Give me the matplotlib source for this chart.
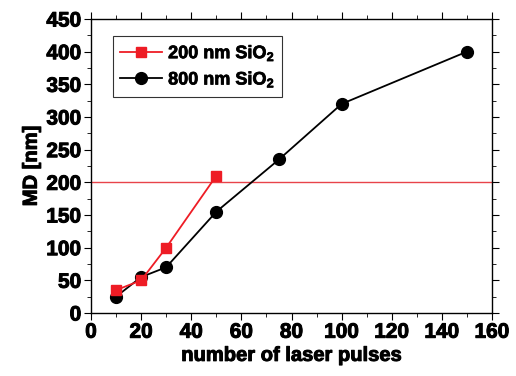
import numpy as np
import matplotlib
matplotlib.use("Agg")
from matplotlib import pyplot as plt
from matplotlib.ticker import MultipleLocator
import matplotlib.patheffects as pe

plt.rcParams['font.family'] = ['Liberation Sans', 'DejaVu Sans']
plt.rcParams['font.weight'] = 'bold'
plt.rcParams['mathtext.fontset'] = 'custom'
plt.rcParams['mathtext.rm'] = 'Liberation Sans:bold'
plt.rcParams['mathtext.default'] = 'rm'

# data
pulses_200 = [10, 20, 30, 50]
md_200 = [35, 50, 100, 210]
pulses_800 = [10, 20, 30, 50, 75, 100, 150]
md_800 = [25, 55, 70, 155, 235, 320, 400]
threshold = 200

heavy = [pe.withStroke(linewidth=0.7, foreground="black")]

fig = plt.figure(figsize=(5.16, 3.76), dpi=100)
ax = fig.add_axes([91/516, 1-313/376, (492-91)/516, (313-19)/376])

ax.axhline(threshold, color="#e8434a", lw=1.0, zorder=1)
ax.plot(pulses_200, md_200, color="#ee1c25", marker="s", ms=7.5, lw=1.3,
        label=r"200 nm SiO$_2$", zorder=3)
ax.plot(pulses_800, md_800, color="black", marker="o", ms=8.5, lw=1.3,
        label=r"800 nm SiO$_2$", zorder=2)

ax.set_xlim(0, 160)
ax.set_ylim(0, 450)
ax.xaxis.set_major_locator(MultipleLocator(20))
ax.xaxis.set_minor_locator(MultipleLocator(10))
ax.yaxis.set_major_locator(MultipleLocator(50))
ax.yaxis.set_minor_locator(MultipleLocator(25))
ax.tick_params(which="both", direction="out", top=True, right=True,
               labelsize=15, pad=2)
ax.tick_params(which="major", length=5)
ax.tick_params(which="minor", length=3)
for s in ax.spines.values():
    s.set_linewidth(1.0)
for t in ax.get_xticklabels() + ax.get_yticklabels():
    t.set_path_effects(heavy)

ax.set_xlabel("number of laser pulses", fontsize=14.5, fontweight="bold",
              labelpad=3, path_effects=heavy)
ax.set_ylabel("MD [nm]", fontsize=14.5, fontweight="bold", labelpad=4,
              path_effects=heavy)

leg = ax.legend(loc="upper left", bbox_to_anchor=(0.055, 0.942), fontsize=13,
                frameon=True, fancybox=False, edgecolor="black",
                handlelength=2.3, handletextpad=0.35, borderpad=0.4,
                labelspacing=0.35, borderaxespad=0)
leg.get_frame().set_linewidth(0.8)
for t in leg.get_texts():
    t.set_path_effects([pe.withStroke(linewidth=0.5, foreground="black")])

fig.savefig("out.png", dpi=100)
